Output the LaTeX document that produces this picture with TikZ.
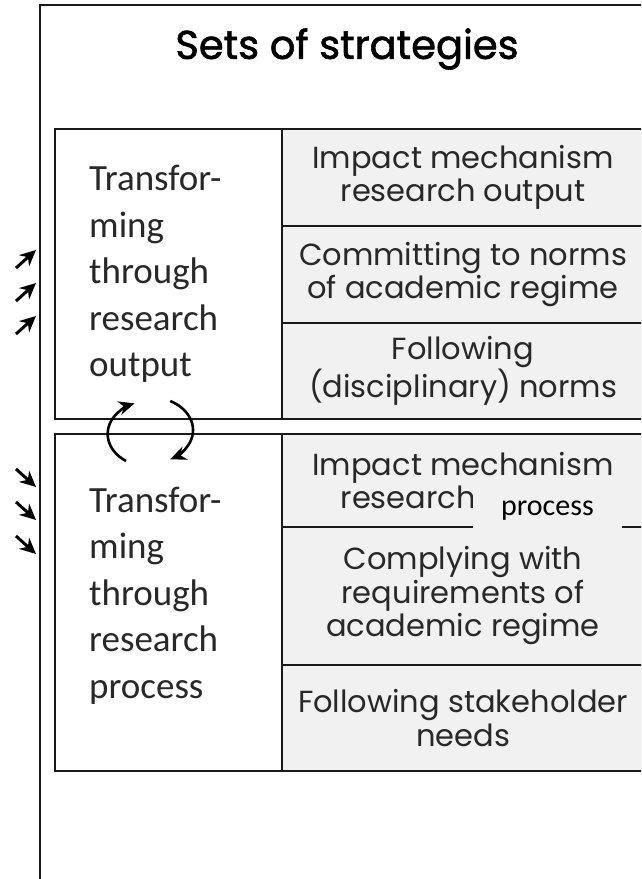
\documentclass[tikz,border=0pt]{standalone}
\usepackage{fontspec}
\setmainfont{Carlito}
\newfontfamily\gothic{Poppins}
\newfontfamily\gothicbold[FakeBold=1.5]{Poppins}
\usetikzlibrary{arrows.meta}
\definecolor{cellgray}{RGB}{241,241,241}
\definecolor{inkline}{RGB}{25,25,25}
\definecolor{inktext}{RGB}{40,40,40}
\tikzset{
	frame/.style={line width=2.4pt, draw=inkline},
	cell/.style={draw=inkline, line width=2.6pt, fill=cellgray, minimum width=362pt, inner sep=0pt, align=center, text=inktext, font=\gothic\fontsize{30.5}{33.5}\selectfont},
	leftcell/.style={draw=inkline, line width=2.6pt, fill=white, minimum width=227pt, inner sep=0pt},
	lefttext/.style={align=left, inner sep=0pt, anchor=west, text=inktext, font=\fontsize{37}{46.5}\selectfont},
	smallarrow/.style={line width=3pt, -{Stealth[length=16pt,width=15pt]}},
	turnarrow/.style={line width=2.6pt, -{Stealth[length=16pt,width=14pt]}},
}
\begin{document}
\begin{tikzpicture}[x=1pt,y=1pt]
		\useasboundingbox (0,0) rectangle (641,879);
		\clip (0,0) rectangle (641,879);
		\fill[white] (0,0) rectangle (641,879);
		%frame
		\draw[frame] (40,-5) -- (40,874) -- (660,874);
		\node[font=\gothicbold\fontsize{40}{40}\selectfont] (title) at (347,830) {Sets of strategies};
		%research output
		\node[leftcell, minimum height=290pt] (outbox) at (168.5,605) {};
		\node[lefttext] (outtext) at (89,605) {Transfor-\\ming\\through\\research\\output};
		\node[cell, minimum height=97pt] (outA) at (463,701.5) {Impact mechanism\\research output};
		\node[cell, minimum height=97pt] (outB) at (463,604.5) {Committing to norms\\of academic regime};
		\node[cell, minimum height=96pt] (outC) at (463,508) {Following\\(disciplinary) norms};
		%research process
		\node[leftcell, minimum height=337pt] (probox) at (168.5,276.5) {};
		\node[lefttext] (protext) at (89,283.5) {Transfor-\\ming\\through\\research\\process};
		\node[cell, minimum height=93pt] (proA) at (463,398.5) {Impact mechanism\\research\hphantom{\ output}};
		\node[cell, minimum height=138pt] (proB) at (463,283) {Complying with\\requirements of\\academic regime};
		\node[cell, minimum height=106pt] (proC) at (463,161) {Following stakeholder\\needs};
		\node[fill=cellgray, inner sep=0pt, minimum width=149pt, minimum height=40pt, font=\fontsize{30}{30}\selectfont] (patch) at (547.5,368) {process};
		%cycle
		\draw[turnarrow] (126,418) arc[start angle=235, end angle=112, x radius=43pt, y radius=33pt];
		\draw[turnarrow] (170.2,478) arc[start angle=62, end angle=-62, x radius=43pt, y radius=33pt];
		%side arrows
		\foreach \y in {619, 586, 553}
			\draw[smallarrow] (16,\y-8) -- (36,\y+10);
		\foreach \y in {401, 368, 334}
			\draw[smallarrow] (16,\y+9) -- (36,\y-9);
		\end{tikzpicture}
\end{document}
